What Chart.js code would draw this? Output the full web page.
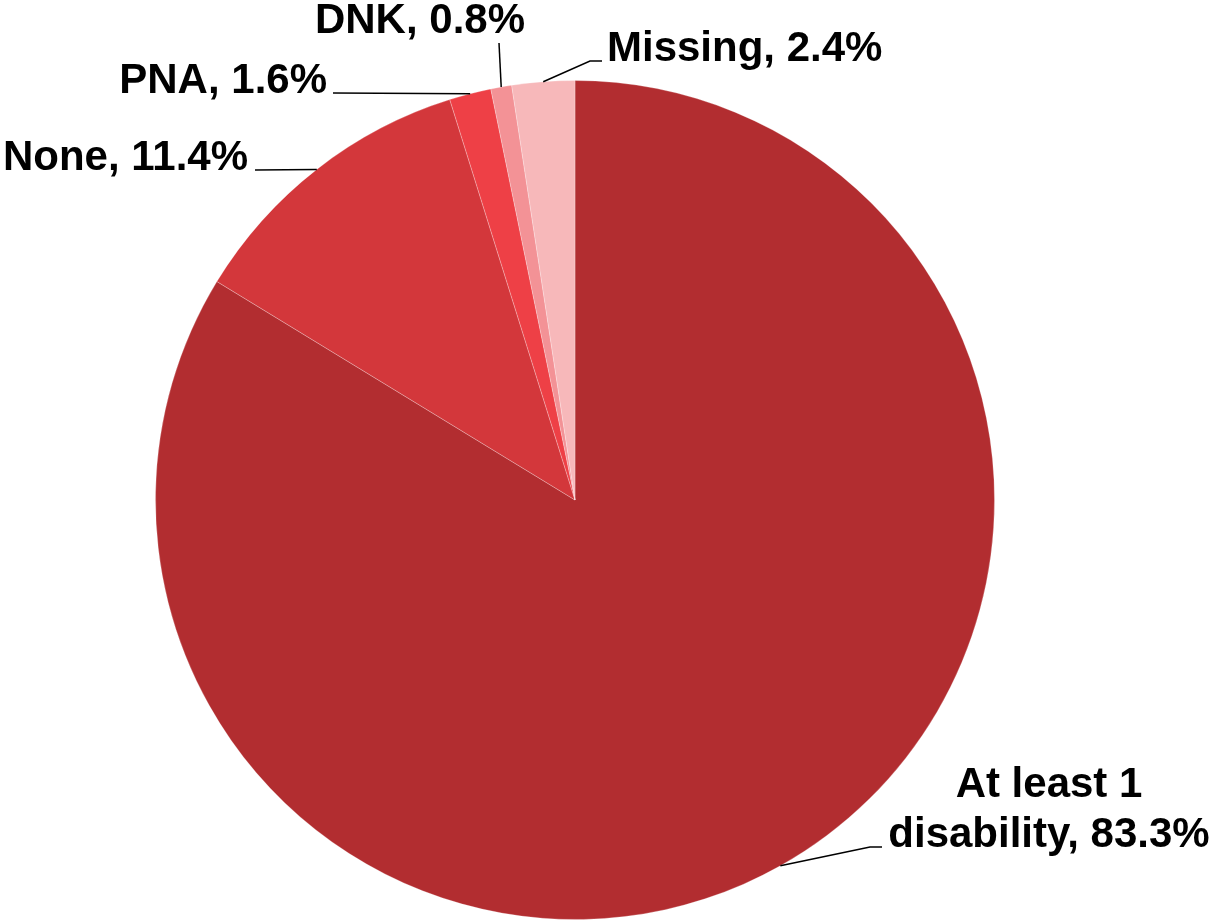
<!DOCTYPE html>
<html>
<head>
<meta charset="utf-8">
<script src="https://cdn.jsdelivr.net/npm/chart.js@4.4.0/dist/chart.umd.min.js"></script>
<style>
  html, body { margin: 0; padding: 0; background: #fff; }
  #wrap { width: 1211px; height: 920px; }
</style>
</head>
<body>
<div id="wrap"><canvas id="pie" width="1211" height="920"></canvas></div>
<script>
// data
const labels = ['At least 1 disability', 'None', 'PNA', 'DNK', 'Missing'];
const values = [83.3, 11.4, 1.6, 0.8, 2.4];
const colors = ['#B22D30', '#D3373B', '#EE4046', '#F39296', '#F7B8BA'];

// where each label sits and how its leader bends (px)
const labelLayout = [
  { lines: ['At least 1', 'disability, 83.3%'], x: 1049, y: 797, align: 'center', path: [[870, 847], [882, 847]] },
  { lines: ['None, 11.4%'], x: 248, y: 170, align: 'right', path: [[255, 170]] },
  { lines: ['PNA, 1.6%'], x: 327, y: 93, align: 'right', path: [[333, 93]] },
  { lines: ['DNK, 0.8%'], x: 525, y: 33, align: 'right', path: [[499, 43]] },
  { lines: ['Missing, 2.4%'], x: 607, y: 61, align: 'left', path: [[590, 61], [602, 61]] }
];

const font = 'bold 42px "Liberation Sans", Arial, sans-serif';

const pieLabels = {
  id: 'pieLabels',
  afterDraw(chart) {
    const c = chart.ctx;
    const arcs = chart.getDatasetMeta(0).data;
    c.save();
    c.strokeStyle = '#000';
    c.lineWidth = 1.5;
    arcs.forEach((arc, i) => {
      const p = arc.getProps(['x', 'y', 'startAngle', 'endAngle', 'outerRadius'], true);
      const mid = (p.startAngle + p.endAngle) / 2;
      const sx = p.x + Math.cos(mid) * p.outerRadius;
      const sy = p.y + Math.sin(mid) * p.outerRadius;
      const lay = labelLayout[i];
      c.beginPath();
      c.moveTo(sx, sy);
      lay.path.forEach(pt => c.lineTo(pt[0], pt[1]));
      c.stroke();

      c.fillStyle = '#000';
      c.font = font;
      c.textAlign = lay.align;
      c.textBaseline = 'alphabetic';
      lay.lines.forEach((t, k) => c.fillText(t, lay.x, lay.y + k * 50));
    });
    c.restore();
  }
};

new Chart(document.getElementById('pie'), {
  type: 'pie',
  data: {
    labels: labels,
    datasets: [{
      data: values,
      backgroundColor: colors,
      borderColor: 'rgba(255,255,255,0.25)',
      borderWidth: 1
    }]
  },
  options: {
    responsive: false,
    devicePixelRatio: 1,
    animation: false,
    layout: { padding: { top: 80, bottom: 0, left: 0, right: 61 } },
    plugins: {
      legend: { display: false },
      tooltip: { enabled: false }
    }
  },
  plugins: [pieLabels]
});
</script>
</body>
</html>
